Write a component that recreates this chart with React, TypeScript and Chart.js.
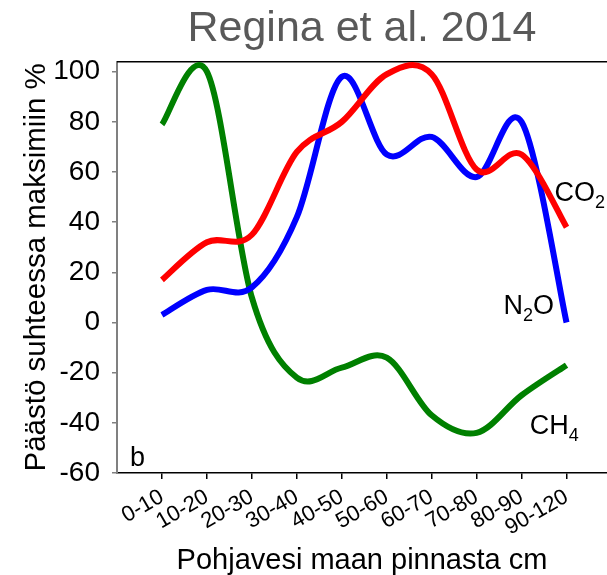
import React, { useEffect, useRef } from 'react';
import { Chart, registerables } from 'chart.js';

Chart.register(...registerables);

const FONT = "'Liberation Sans', Arial, sans-serif";

const categories = ['0-10', '10-20', '20-30', '30-40', '40-50', '50-60', '60-70', '70-80', '80-90', '90-120'];
const co2 = [17, 32, 35, 68, 80, 99, 99, 61, 67, 38];
const n2o = [3, 13, 14, 42, 98, 67, 74, 58, 80, 0];
const ch4 = [79, 100, 10, -22, -18, -14, -37, -44, -29, -17];
const yTicks = [-60, -40, -20, 0, 20, 40, 60, 80, 100];

const titleText = 'Regina et al. 2014';
const yTitle = 'Päästö suhteessa maksimiin %';
const xTitle = 'Pohjavesi maan pinnasta cm';

// annotation texts placed in data coordinates (x index, y value at baseline)
const notes = [
  { main: 'CO', sub: '2', tail: '', x: 8.73, y: 48.4 },
  { main: 'N', sub: '2', tail: 'O', x: 7.6, y: 3.2 },
  { main: 'CH', sub: '4', tail: '', x: 8.18, y: -44.4 },
  { main: 'b', sub: '', tail: '', x: -0.71, y: -57.4 },
];

// Excel-like uniform Catmull-Rom smoothing of the line through its points
const excelSmooth = {
  id: 'excelSmooth',
  beforeDatasetDraw(chart: any, args: any) {
    const meta = args.meta;
    const pts = meta.data;
    const n = pts.length;
    for (let i = 0; i < n; i++) {
      const p = pts[i];
      const prev = pts[Math.max(0, i - 1)];
      const next = pts[Math.min(n - 1, i + 1)];
      const dx = (next.x - prev.x) / 6;
      const dy = (next.y - prev.y) / 6;
      p.cp1x = p.x - dx;
      p.cp1y = p.y - dy;
      p.cp2x = p.x + dx;
      p.cp2y = p.y + dy;
    }
    if (meta.dataset) {
      meta.dataset._pointsUpdated = true;
      meta.dataset._path = undefined;
    }
  },
};

const decorations = {
  id: 'decorations',
  beforeDatasetsDraw(chart: any) {
    const { ctx, chartArea } = chart;
    ctx.save();
    ctx.strokeStyle = '#000000';
    ctx.lineWidth = 1.5;
    ctx.beginPath();
    ctx.moveTo(chartArea.left, chartArea.top);
    ctx.lineTo(chartArea.right, chartArea.top);
    ctx.stroke();
    ctx.restore();
  },
  afterDraw(chart: any) {
    const { ctx, scales } = chart;
    ctx.save();
    ctx.fillStyle = '#000000';
    ctx.textBaseline = 'alphabetic';
    ctx.textAlign = 'left';
    for (const n of notes) {
      const x = scales.x.getPixelForValue(n.x);
      const y = scales.y.getPixelForValue(n.y);
      ctx.font = `27px ${FONT}`;
      ctx.fillText(n.main, x, y);
      let w = ctx.measureText(n.main).width;
      if (n.sub) {
        ctx.font = `18px ${FONT}`;
        ctx.fillText(n.sub, x + w, y + 7);
        w += ctx.measureText(n.sub).width;
      }
      if (n.tail) {
        ctx.font = `27px ${FONT}`;
        ctx.fillText(n.tail, x + w, y);
      }
    }
    ctx.restore();
  },
};

export default function App() {
  const ref = useRef<HTMLCanvasElement>(null);

  useEffect(() => {
    Chart.defaults.font.family = FONT;
    const toPts = (arr: number[]) => arr.map((v, i) => ({ x: i, y: v }));
    const mk = (label: string, arr: number[], color: string) => ({
      label,
      data: toPts(arr),
      borderColor: color,
      backgroundColor: color,
      borderWidth: 6,
      pointRadius: 0,
      pointHoverRadius: 0,
      tension: 0.4,
      fill: false,
      borderJoinStyle: 'round' as const,
    });
    const chart = new Chart(ref.current!, {
      type: 'line',
      data: {
        datasets: [
          mk('CO2', co2, '#ff0000'),
          mk('N2O', n2o, '#0000ff'),
          mk('CH4', ch4, '#008000'),
        ],
      },
      options: {
        animation: false,
        responsive: true,
        maintainAspectRatio: false,
        layout: { padding: 0 },
        elements: { line: { capBezierPoints: false } },
        plugins: {
          legend: { display: false },
          tooltip: { enabled: false },
          title: {
            display: true,
            text: titleText,
            color: '#595959',
            fullSize: false,
            font: { size: 43, weight: 'normal', lineHeight: 1.2 },
            padding: { top: 3.5, bottom: 6.6 },
          },
        },
        scales: {
          x: {
            type: 'linear',
            min: -1,
            max: 9.9,
            afterBuildTicks: (s: any) => {
              s.ticks = categories.map((_, i) => ({ value: i }));
            },
            afterFit: (s: any) => {
              s.height = 102;
            },
            ticks: {
              autoSkip: false,
              minRotation: 30,
              maxRotation: 30,
              padding: 5,
              color: '#000000',
              font: { size: 22 },
              callback: (v: any) => categories[v] ?? '',
            },
            grid: {
              drawOnChartArea: false,
              drawTicks: true,
              tickLength: 6,
              color: '#000000',
              lineWidth: 1.5,
            },
            border: { display: true, color: '#000000', width: 1.5 },
            title: {
              display: true,
              text: xTitle,
              color: '#000000',
              font: { size: 29, lineHeight: 1 },
              padding: { top: 0, bottom: 0 },
            },
          },
          y: {
            type: 'linear',
            min: -60,
            max: 104,
            afterBuildTicks: (s: any) => {
              s.ticks = yTicks.map((v) => ({ value: v }));
            },
            afterFit: (s: any) => {
              s.width = 117;
            },
            ticks: {
              padding: 12,
              color: '#000000',
              font: { size: 28 },
            },
            grid: {
              drawOnChartArea: false,
              drawTicks: true,
              tickLength: 5,
              color: '#808080',
              lineWidth: 1.5,
            },
            border: { display: true, color: '#808080', width: 2 },
            title: {
              display: true,
              text: yTitle,
              color: '#000000',
              font: { size: 29.5, lineHeight: 1.2 },
              padding: { top: 19.5, bottom: 0 },
            },
          },
        },
      },
      plugins: [excelSmooth, decorations],
    });
    return () => chart.destroy();
  }, []);

  return (
    <div style={{ position: 'absolute', left: 0, top: 0, width: 607, height: 575 }}>
      <canvas ref={ref} />
    </div>
  );
}
